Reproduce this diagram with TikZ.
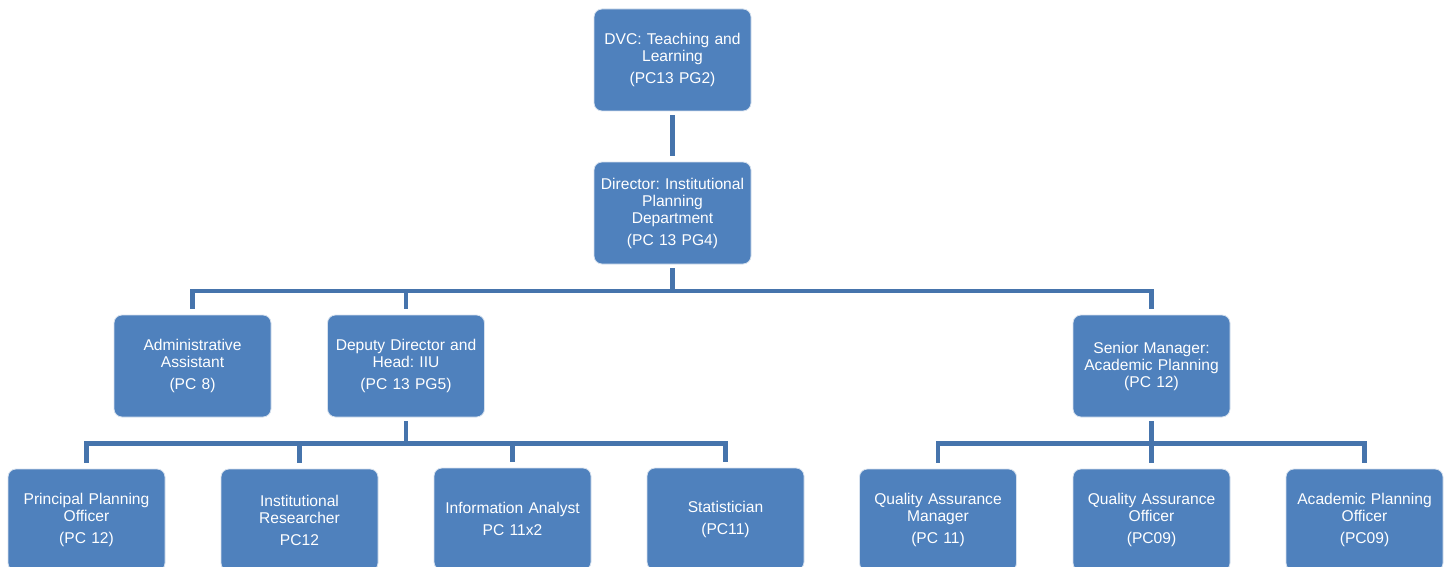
\documentclass[tikz,border=0pt]{standalone}
\usepackage{fontspec}
\setmainfont{Liberation Sans}
\frenchspacing
\definecolor{boxblue}{HTML}{4F81BD}
\definecolor{lineblue}{HTML}{4674AC}
\definecolor{boxedge}{HTML}{D6E1EE}
\begin{document}
\begin{tikzpicture}[x=1pt,y=-1pt,
  orgbox/.style={draw=boxedge, line width=0.8pt, fill=boxblue, rounded corners=8pt,
    minimum width=157pt, minimum height=102pt, inner sep=0pt, text=white,
    align=center, text width=154pt, font=\fontsize{15.6}{17}\selectfont\frenchspacing},
  conn/.style={draw=lineblue, line width=4.5pt, line join=miter, shorten <=4pt, shorten >=6pt}]
\useasboundingbox (0,0) rectangle (1450,567);
\node[orgbox] (dvc) at (672.5,60) {DVC: Teaching and\\Learning\\[5pt](PC13 PG2)};
\node[orgbox] (dir) at (672.5,213) {Director: Institutional\\Planning\\Department\\[5pt](PC 13 PG4)};
\node[orgbox] (adm) at (192.5,366) {Administrative\\Assistant\\[5pt](PC 8)};
\node[orgbox] (dep) at (406,366) {Deputy Director and\\Head: IIU\\[5pt](PC 13 PG5)};
\node[orgbox] (sen) at (1151.5,366) {Senior Manager:\\Academic Planning\\(PC 12)};
\node[orgbox] (ppo) at (86.5,520) {Principal Planning\\Officer\\[5pt](PC 12)};
\node[orgbox] (ire) at (299.5,520) {Institutional\\Researcher\\[5pt]PC12};
\node[orgbox] (ian) at (512.5,519) {Information Analyst\\[5pt]PC 11x2};
\node[orgbox] (sta) at (725.5,519) {Statistician\\[5pt](PC11)};
\node[orgbox] (qam) at (938,520) {Quality Assurance\\Manager\\[5pt](PC 11)};
\node[orgbox] (qao) at (1151.5,520) {Quality Assurance\\Officer\\[5pt](PC09)};
\node[orgbox] (apo) at (1364.5,520) {Academic Planning\\Officer\\[5pt](PC09)};
\coordinate (bus1) at (0,291);
\coordinate (bus2) at (0,443.5);
% top
\draw[conn] (dvc.south) -- (dir.north);
% level 2 bus
\draw[conn, shorten <=6pt] (adm.north) -- (adm.north |- bus1) -- (sen.north |- bus1) -- (sen.north);
\draw[conn, shorten <=4pt, shorten >=0pt] (dir.south) -- (dir.south |- bus1);
\draw[conn, shorten <=0pt] (dep.north |- bus1) -- (dep.north);
% deputy group
\draw[conn, shorten <=6pt] (ppo.north) -- (ppo.north |- bus2) -- (sta.north |- bus2) -- (sta.north);
\draw[conn, shorten >=0pt] (dep.south) -- (dep.south |- bus2);
\draw[conn, shorten <=0pt] (ire.north |- bus2) -- (ire.north);
\draw[conn, shorten <=0pt] (ian.north |- bus2) -- (ian.north);
% senior group
\draw[conn, shorten <=6pt] (qam.north) -- (qam.north |- bus2) -- (apo.north |- bus2) -- (apo.north);
\draw[conn] (sen.south) -- (qao.north);
\end{tikzpicture}
\end{document}
